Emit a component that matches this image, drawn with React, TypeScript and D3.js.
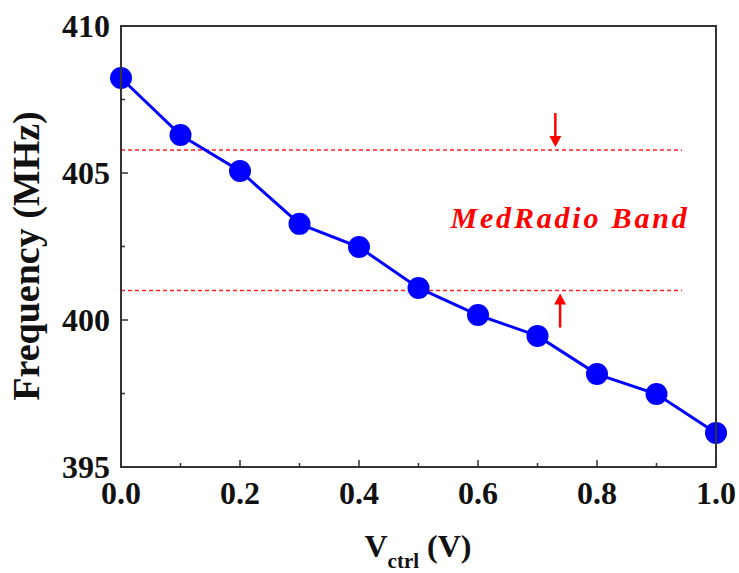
import React, { useEffect, useRef } from 'react';
import * as d3 from 'd3';

// Frequency vs control voltage, with the MedRadio band marked.
const vctrl = [0.0, 0.1, 0.2, 0.3, 0.4, 0.5, 0.6, 0.7, 0.8, 0.9, 1.0];
const freq = [408.23, 406.29, 405.07, 403.27, 402.48, 401.09, 400.17, 399.46, 398.16, 397.48, 396.16];
const bandEdges = [405.78, 401.0];
const bandLineEnd = 0.943;
const arrowX = [0.73, 0.738];
const xTicks = [0, 0.2, 0.4, 0.6, 0.8, 1.0];
const xMinor = [0.1, 0.3, 0.5, 0.7, 0.9];
const yTicks = [395, 400, 405, 410];
const yMinor = [397.5, 402.5, 407.5];

const W = 739;
const H = 573;
const LEFT = 121;
const RIGHT = 716;
const TOP = 26;
const BOTTOM = 467;
const FONT = '"Liberation Serif", "Times New Roman", serif';

const App = () => {
  const svgRef = useRef<SVGSVGElement>(null);

  useEffect(() => {
    const svg = d3.select(svgRef.current);
    svg.selectAll('*').remove();

    const x = d3.scaleLinear().domain([0, 1]).range([LEFT, RIGHT]);
    const y = d3.scaleLinear().domain([395, 410]).range([BOTTOM, TOP]);

    // Band limit lines.
    bandEdges.forEach((v) => {
      svg
        .append('line')
        .attr('x1', x(0))
        .attr('x2', x(bandLineEnd))
        .attr('y1', y(v))
        .attr('y2', y(v))
        .attr('stroke', '#ff2020')
        .attr('stroke-width', 1.5)
        .style('stroke-dasharray', '4, 3');
    });

    // Arrows pointing at the band edges.
    const arrow = (ax: number, from: number, to: number) => {
      const dir = Math.sign(to - from);
      svg
        .append('line')
        .attr('x1', ax)
        .attr('x2', ax)
        .attr('y1', from)
        .attr('y2', to - dir * 9)
        .attr('stroke', '#ff0000')
        .attr('stroke-width', 2.5);
      svg
        .append('path')
        .attr('d', `M${ax - 6},${to - dir * 11} L${ax + 6},${to - dir * 11} L${ax},${to} Z`)
        .attr('fill', '#ff0000');
    };
    arrow(x(arrowX[0]), y(bandEdges[0]) - 37, y(bandEdges[0]) - 3);
    arrow(x(arrowX[1]), y(bandEdges[1]) + 37, y(bandEdges[1]) + 3);

    svg
      .append('text')
      .attr('x', 570)
      .attr('y', 228)
      .attr('text-anchor', 'middle')
      .attr('font-family', FONT)
      .attr('font-weight', 'bold')
      .attr('font-style', 'italic')
      .attr('font-size', 30)
      .attr('letter-spacing', 2.8)
      .attr('fill', '#ff0000')
      .text('MedRadio Band');

    // Data line and markers.
    const pts = vctrl.map((v, i) => [v, freq[i]] as [number, number]);
    svg
      .append('path')
      .datum(pts)
      .attr('fill', 'none')
      .attr('stroke', '#0000ff')
      .attr('stroke-width', 3)
      .attr('d', d3.line().x((d) => x(d[0])).y((d) => y(d[1])));
    svg
      .append('g')
      .selectAll('circle')
      .data(pts)
      .enter()
      .append('circle')
      .attr('cx', (d) => x(d[0]))
      .attr('cy', (d) => y(d[1]))
      .attr('r', 11)
      .attr('fill', '#0000ff');

    // Frame.
    svg
      .append('rect')
      .attr('x', LEFT)
      .attr('y', TOP)
      .attr('width', RIGHT - LEFT)
      .attr('height', BOTTOM - TOP)
      .attr('fill', 'none')
      .attr('stroke', '#333')
      .attr('stroke-width', 2);

    // Inward ticks on left and bottom.
    const tick = (x1: number, y1: number, x2: number, y2: number) =>
      svg
        .append('line')
        .attr('x1', x1)
        .attr('y1', y1)
        .attr('x2', x2)
        .attr('y2', y2)
        .attr('stroke', '#333')
        .attr('stroke-width', 1.5);
    xTicks.forEach((v) => tick(x(v), BOTTOM, x(v), BOTTOM - 7));
    xMinor.forEach((v) => tick(x(v), BOTTOM, x(v), BOTTOM - 4));
    yTicks.forEach((v) => tick(LEFT, y(v), LEFT + 7, y(v)));
    yMinor.forEach((v) => tick(LEFT, y(v), LEFT + 4, y(v)));

    svg
      .append('g')
      .selectAll('text')
      .data(xTicks)
      .enter()
      .append('text')
      .attr('x', (v) => x(v))
      .attr('y', 504)
      .attr('text-anchor', 'middle')
      .attr('font-family', FONT)
      .attr('font-weight', 'bold')
      .attr('font-size', 32)
      .attr('fill', '#111')
      .text((v) => v.toFixed(1));
    svg
      .append('g')
      .selectAll('text')
      .data(yTicks)
      .enter()
      .append('text')
      .attr('x', 110)
      .attr('y', (v) => y(v) + 11)
      .attr('text-anchor', 'end')
      .attr('font-family', FONT)
      .attr('font-weight', 'bold')
      .attr('font-size', 32)
      .attr('fill', '#111')
      .text((v) => String(v));

    // Axis titles.
    svg
      .append('text')
      .attr('transform', 'translate(39,256) rotate(-90)')
      .attr('text-anchor', 'middle')
      .attr('font-family', FONT)
      .attr('font-weight', 'bold')
      .attr('font-size', 38)
      .attr('fill', '#111')
      .text('Frequency (MHz)');
    const xt = svg
      .append('text')
      .attr('x', 418)
      .attr('y', 557)
      .attr('text-anchor', 'middle')
      .attr('font-family', FONT)
      .attr('font-weight', 'bold')
      .attr('font-size', 32)
      .attr('fill', '#111');
    xt.append('tspan').text('V');
    xt.append('tspan').attr('font-size', 21).attr('dy', 11).text('ctrl');
    xt.append('tspan').attr('dy', -11).text(' (V)');
  }, []);

  return <svg ref={svgRef} width={W} height={H} style={{ display: 'block', position: 'absolute', left: 0, top: 0, background: '#fff' }} />;
};

export default App;
